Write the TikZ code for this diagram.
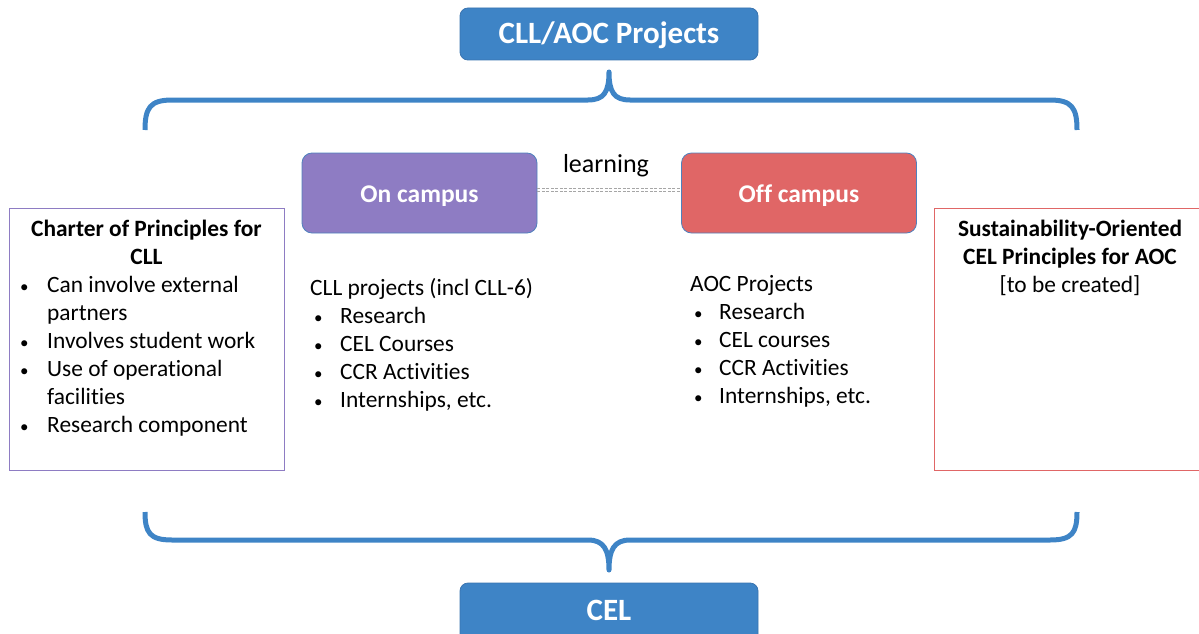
\documentclass[tikz,border=0pt]{standalone}
\usepackage{fontspec}
\setmainfont{Carlito}[Ligatures=NoCommon]
\definecolor{boxblue}{RGB}{62,132,198}
\definecolor{boxblueline}{RGB}{58,116,176}
\definecolor{campuspurple}{RGB}{142,124,195}
\definecolor{campusred}{RGB}{224,102,102}
\definecolor{edgeblue}{RGB}{79,129,189}
\newcommand{\bul}{{\fontsize{17}{28}\selectfont\textbullet}}
\begin{document}
\begin{tikzpicture}[x=1pt,y=-1pt,
  headbox/.style={draw=boxblueline, line width=0.8pt, fill=boxblue, rounded corners=8pt,
    text=white, font=\fontsize{31}{36}\selectfont\bfseries, minimum width=298pt, inner sep=0pt},
  campusbox/.style={draw=edgeblue, line width=0.8pt, rounded corners=10pt, text=white,
    font=\fontsize{25.5}{30}\selectfont\bfseries, minimum width=235pt, minimum height=80pt, inner sep=0pt,
    text height=20pt, text depth=2pt},
  bracestyle/.style={draw=boxblue, line width=5pt, line join=round, line cap=butt},
  bodytext/.style={inner sep=0pt, font=\fontsize{23.4}{28}\selectfont, anchor=base west},
  titletext/.style={inner sep=0pt, font=\fontsize{23.4}{28}\selectfont, anchor=base},
  linkline/.style={draw=gray!70, line width=0.8pt, dash pattern=on 3pt off 1.5pt}
]
\useasboundingbox (0,0) rectangle (1199,634);

% top and bottom boxes
\node[headbox, minimum height=52pt, text height=22pt, text depth=2pt] (top) at (609,34) {CLL/AOC Projects};
\node[headbox, minimum height=62pt, text height=16pt, text depth=4pt] (cel) at (609,614) {CEL};

% braces
\draw[bracestyle] (145,130) .. controls (145,108) and (150,100) .. (172,100) -- (588,100)
  .. controls (604,100) and (609,92) .. (609,72)
  .. controls (609,92) and (614,100) .. (630,100) -- (1050,100)
  .. controls (1072,100) and (1077,108) .. (1077,130);
\draw[bracestyle] (145,512) .. controls (145,533) and (150,540) .. (172,540) -- (588,540)
  .. controls (604,540) and (609,550) .. (609,570)
  .. controls (609,550) and (614,540) .. (630,540) -- (1050,540)
  .. controls (1072,540) and (1077,533) .. (1077,512);

% campus boxes
\node[campusbox, fill=campuspurple] (on) at (419.5,193) {On campus};
\node[campusbox, fill=campusred] (off) at (799,193) {Off campus};
\draw[linkline] ([yshift=5pt]on.east) -- ([yshift=5pt]off.west);
\draw[linkline] ([yshift=1.5pt]on.east) -- ([yshift=1.5pt]off.west);
\node[inner sep=0pt, font=\fontsize{26}{30}\selectfont, anchor=base] (learn) at (606,172) {learning};

% left box
\draw[draw=campuspurple, line width=0.9pt] (9,208) rectangle (284,470);
\node[titletext] (lefttitle) at (146.5,236) {\begin{tabular}[t]{@{}c@{}}\bfseries Charter of Principles for\\ \bfseries CLL\end{tabular}};
\node[bodytext] (leftlist) at (20,292) {\begin{tabular}[t]{@{}p{27pt}@{}l@{}}
\bul & Can involve external\\
 & partners\\
\bul & Involves student work\\
\bul & Use of operational\\
 & facilities\\
\bul & Research component
\end{tabular}};

% right box (cut off at the right edge)
\draw[draw=campusred, line width=0.9pt] (1202,208) -- (934,208) -- (934,470) -- (1202,470);
\node[titletext] (righttitle) at (1070,236) {\begin{tabular}[t]{@{}c@{}}\bfseries Sustainability-Oriented\\ \bfseries CEL Principles for AOC\\ {[to be created]}\end{tabular}};

% middle lists
\node[bodytext] (cllist) at (310,295) {\begin{tabular}[t]{@{\hspace{4pt}}p{26pt}@{}l@{}}
\multicolumn{2}{@{}l@{}}{CLL projects (incl CLL-6)}\\
\bul & Research\\
\bul & CEL Courses\\
\bul & CCR Activities\\
\bul & Internships, etc.
\end{tabular}};
\node[bodytext] (aoclist) at (690,291) {\begin{tabular}[t]{@{\hspace{4pt}}p{25pt}@{}l@{}}
\multicolumn{2}{@{}l@{}}{AOC Projects}\\
\bul & Research\\
\bul & CEL courses\\
\bul & CCR Activities\\
\bul & Internships, etc.
\end{tabular}};
\end{tikzpicture}
\end{document}
